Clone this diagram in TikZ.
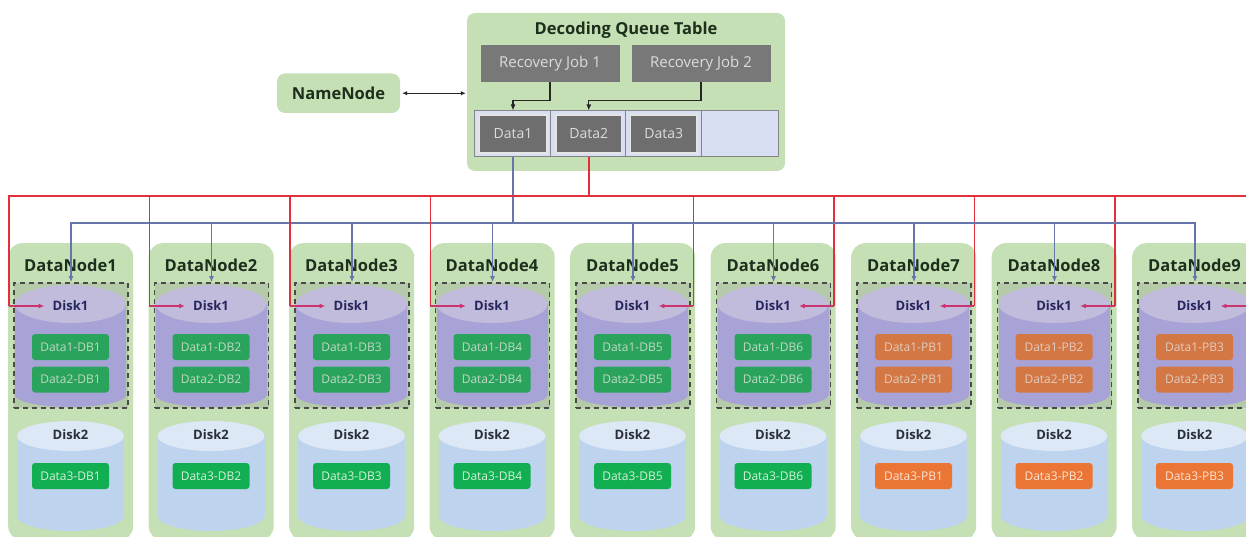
\documentclass[tikz,border=0pt]{standalone}
\usepackage{fontspec}
\setmainfont{Open Sans}
\usetikzlibrary{arrows.meta,calc}

\definecolor{leaf}{HTML}{C5E0B4}
\definecolor{titleink}{HTML}{1D2E1D}
\definecolor{jobgray}{HTML}{787878}
\definecolor{jobink}{HTML}{DCDCDC}
\definecolor{cellgray}{HTML}{6E6E6E}
\definecolor{rowfill}{HTML}{D8DFF3}
\definecolor{rowline}{HTML}{858585}
\definecolor{purplebody}{HTML}{B3ADF0}
\definecolor{purpletop}{HTML}{D4CDF5}
\definecolor{bluebody}{HTML}{BDD3EE}
\definecolor{bluetop}{HTML}{DCE8F6}
\definecolor{framecol}{HTML}{4A4A4A}
\definecolor{chipgreen}{HTML}{12AE52}
\definecolor{chipgreenink}{HTML}{D2F2D6}
\definecolor{chiporange}{HTML}{EB7535}
\definecolor{chiporangeink}{HTML}{FDE3D2}
\definecolor{disk1ink}{HTML}{26265E}
\definecolor{disk2ink}{HTML}{2A2F3A}
\definecolor{wireblue}{HTML}{6676AA}
\definecolor{wirered}{HTML}{E0303C}
\definecolor{wirepink}{HTML}{CC3470}

\newcommand\fsz[1]{\fontsize{#1}{#1}\selectfont}

\begin{document}
\begin{tikzpicture}[x=1pt,y=-1pt,
  greenbox/.style={fill=leaf, rounded corners=12pt, inner sep=0pt},
  boldtitle/.style={font=\fsz{16.5}\bfseries, text=titleink, inner sep=0pt},
  jobbox/.style={fill=jobgray, text=jobink, font=\fsz{15}, minimum width=139pt, minimum height=36.5pt, inner sep=0pt},
  cellframe/.style={draw=rowline, line width=1pt, minimum height=46pt, inner sep=0pt},
  cellbox/.style={fill=cellgray, draw=white!80!gray, line width=1.2pt, text=jobink, font=\fsz{14}, minimum height=38pt, inner sep=0pt},
  chip/.style={rounded corners=3pt, minimum width=77pt, minimum height=26pt, inner sep=0pt, font=\fsz{12}},
  diskframe/.style={fill=gray, fill opacity=0.22, draw=framecol, line width=1.6pt, dash pattern=on 5pt off 4pt, minimum width=114pt, minimum height=125pt, inner sep=0pt},
  disklabel/.style={font=\fsz{13}\bfseries, inner sep=0pt},
  bluewire/.style={draw=wireblue, line width=1.4pt},
  redwire/.style={draw=wirered, line width=1.6pt},
  blackwire/.style={draw=black!85, line width=1.2pt},
  tip/.style={-{Latex[length=6pt,width=5pt]}},
]
\useasboundingbox (0,0) rectangle (1246,537);
\clip (0,0) rectangle (1246,537);

% ---------- name node and decoding queue ----------
\node[greenbox, rounded corners=8pt, minimum width=123pt, minimum height=39.5pt, font=\fsz{16.5}\bfseries, text=titleink] (nn) at (338.5,93.25) {NameNode};
\node[greenbox, rounded corners=8pt, minimum width=318pt, minimum height=158pt] (dqt) at (626,92) {};
\node[boldtitle] (dqtt) at (626,30) {Decoding Queue Table};
\node[jobbox] (rj1) at (550,63.75) {Recovery Job 1};
\node[jobbox] (rj2) at (701,63.75) {Recovery Job 2};

\node[fill=rowfill, draw=rowline, line width=1pt, minimum width=304pt, minimum height=46pt, inner sep=0pt] (row) at (626,134) {};
\node[cellframe, minimum width=76.5pt] (c1) at (512.25,134) {};
\node[cellframe, minimum width=75pt] (c2) at (588,134) {};
\node[cellframe, minimum width=76pt] (c3) at (663.5,134) {};
\node[cellframe, minimum width=76.5pt] (c4) at (739.75,134) {};
\node[cellbox, minimum width=68pt] (q1) at (513,134) {Data1};
\node[cellbox, minimum width=65.5pt] (q2) at (588.75,134) {Data2};
\node[cellbox, minimum width=66.5pt] (q3) at (663.75,134) {Data3};

\draw[blackwire, {Latex[length=5pt,width=4.5pt]}-{Latex[length=5pt,width=4.5pt]}, shorten <=2pt, shorten >=1pt]
  (nn.east) -- (nn.east -| dqt.west);
\draw[blackwire, tip] (rj1.south) -- ++(0,18.5) -| (q1.north |- row.north);
\draw[blackwire, tip] (rj2.south) -- ++(0,18.5) -| (q2.north |- row.north);

% ---------- data nodes ----------
\foreach \i in {1,...,9}{
  \pgfmathsetmacro\L{8+140.5*(\i-1)}
  \pgfmathsetmacro\cx{\L+62.5}
  \ifnum\i<7
    \def\chipcol{chipgreen}\def\chipink{chipgreenink}\def\chiptag{DB\i}
  \else
    \pgfmathtruncatemacro\j{\i-6}
    \def\chipcol{chiporange}\def\chipink{chiporangeink}\edef\chiptag{PB\j}
  \fi
  \node[greenbox, rounded corners=14pt, minimum width=125pt, minimum height=297pt, anchor=north west] (dn\i) at (\L,243) {};
  \node[boldtitle] (dt\i) at (\cx,265) {DataNode\i};
  % disk 1 cylinder with its blocks
  \fill[purplebody] (\cx-55.5,304) rectangle (\cx+55.5,395);
  \fill[purplebody] (\cx,395) ellipse [x radius=55.5pt, y radius=12pt];
  \fill[purpletop] (\cx,304) ellipse [x radius=55.5pt, y radius=19pt];
  \node[chip, fill=\chipcol, text=\chipink] (ca\i) at (\cx,347) {Data1-\chiptag};
  \node[chip, fill=\chipcol, text=\chipink] (cb\i) at (\cx,379.5) {Data2-\chiptag};
  \node[diskframe] (db\i) at (\cx+0.5,345.5) {};
  \node[disklabel, text=disk1ink] (dl\i) at (\cx,306) {Disk1};
  % disk 2 cylinder
  \fill[bluebody] (\cx-53.5,436) rectangle (\cx+53.5,516);
  \fill[bluebody] (\cx,516) ellipse [x radius=53.5pt, y radius=15pt];
  \fill[bluetop] (\cx,436) ellipse [x radius=53.5pt, y radius=15pt];
  \node[disklabel, text=disk2ink] (dk\i) at (\cx,435) {Disk2};
  \node[chip, fill=\chipcol, text=\chipink] (cc\i) at (\cx,476) {Data3-\chiptag};
}

% ---------- wiring from the queue to the disks ----------
\coordinate (bluebus) at (0,223);
\coordinate (redbus) at (0,196);
\draw[bluewire] (q1.south |- row.south) -- (q1.south |- bluebus);
\draw[redwire] (q2.south |- row.south) -- (q2.south |- redbus);
\foreach \i in {1,...,9}{
  \draw[bluewire, tip] (q1.south |- bluebus) -| (db\i.north);
  \ifnum\i<5
    \coordinate (rk\i) at ([xshift=0.8pt]dn\i.west |- dl\i.west);
    \draw[redwire] (q2.south |- redbus) -| (rk\i);
    \draw[wirepink, line width=1.6pt, tip, shorten >=8pt] (rk\i) -- (dl\i.west);
  \else
    \coordinate (rk\i) at ([xshift=-2pt]dn\i.east |- dl\i.east);
    \draw[redwire] (q2.south |- redbus) -| (rk\i);
    \draw[wirepink, line width=1.6pt, tip, shorten >=8pt] (rk\i) -- (dl\i.east);
  \fi
}
\end{tikzpicture}
\end{document}
